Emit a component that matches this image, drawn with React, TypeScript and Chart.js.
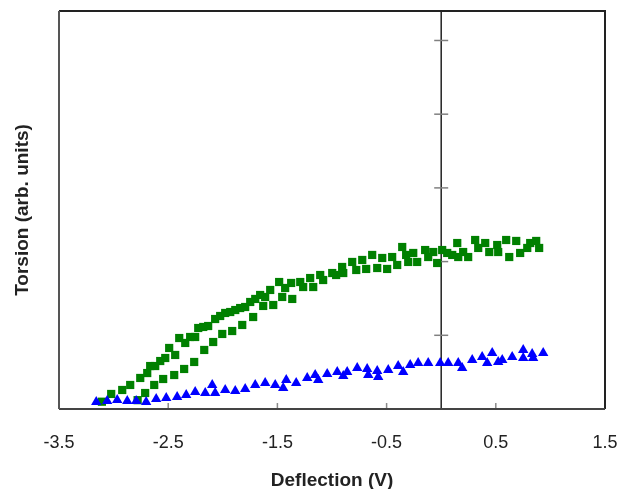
import React, { useEffect, useRef } from "react";
import { Chart, registerables } from "chart.js";

Chart.register(...registerables);

// Tick values
const xTicks = [-3.5, -2.5, -1.5, -0.5, 0.5, 1.5];
const yTicks = [1, 2, 3, 4, 5];

// Green squares (hysteresis loop, upper branch)
const greenUpperX = [-3.107, -3.022, -2.921, -2.848, -2.756, -2.692, -2.665, -2.619, -2.573, -2.527, -2.491, -2.436, -2.399, -2.344, -2.299, -2.253, -2.225, -2.179, -2.134, -2.07, -2.024, -1.978, -1.932, -1.886, -1.841, -1.795, -1.749, -1.703, -1.658, -1.612, -1.566, -1.484, -1.429, -1.374, -1.291, -1.264, -1.2, -1.172, -1.108, -1.081, -0.998, -0.962, -0.907, -0.897, -0.815, -0.778, -0.723, -0.687, -0.632, -0.586, -0.54, -0.495, -0.449, -0.403, -0.357, -0.321, -0.302, -0.256, -0.22, -0.147, -0.119, -0.073, -0.037, 0.009, 0.055, 0.101, 0.147, 0.156, 0.201, 0.247, 0.311, 0.339, 0.403, 0.44, 0.513, 0.522, 0.595, 0.623, 0.687, 0.723, 0.788, 0.815, 0.87, 0.897];
const greenUpperY = [0.099, 0.204, 0.258, 0.326, 0.421, 0.488, 0.583, 0.583, 0.651, 0.692, 0.828, 0.733, 0.963, 0.896, 0.977, 0.977, 1.099, 1.113, 1.126, 1.221, 1.262, 1.303, 1.316, 1.343, 1.37, 1.384, 1.452, 1.493, 1.547, 1.52, 1.615, 1.723, 1.642, 1.71, 1.723, 1.655, 1.777, 1.655, 1.818, 1.75, 1.845, 1.818, 1.927, 1.845, 1.995, 1.886, 2.022, 1.9, 2.09, 1.913, 2.049, 1.9, 2.062, 1.954, 2.198, 2.09, 1.995, 2.117, 1.995, 2.157, 2.062, 2.13, 1.981, 2.157, 2.117, 2.09, 2.252, 2.062, 2.13, 2.062, 2.293, 2.185, 2.252, 2.13, 2.225, 2.13, 2.293, 2.062, 2.28, 2.117, 2.185, 2.252, 2.28, 2.185];

// Green squares (lower branch)
const greenLowerX = [-2.78, -2.711, -2.628, -2.546, -2.445, -2.354, -2.262, -2.17, -2.088, -2.005, -1.914, -1.822, -1.722, -1.63, -1.538, -1.456, -1.364];
const greenLowerY = [0.12, 0.217, 0.326, 0.407, 0.461, 0.543, 0.638, 0.801, 0.909, 1.018, 1.058, 1.14, 1.248, 1.398, 1.411, 1.52, 1.493];

// Blue triangles
const blueX = [-3.159, -3.059, -2.967, -2.875, -2.793, -2.702, -2.61, -2.518, -2.418, -2.335, -2.253, -2.161, -2.097, -2.07, -1.978, -1.886, -1.795, -1.703, -1.612, -1.52, -1.447, -1.419, -1.328, -1.227, -1.154, -1.126, -1.044, -0.952, -0.897, -0.861, -0.769, -0.678, -0.668, -0.586, -0.577, -0.485, -0.394, -0.348, -0.284, -0.211, -0.119, -0.009, 0.064, 0.156, 0.192, 0.284, 0.375, 0.421, 0.467, 0.522, 0.559, 0.65, 0.751, 0.751, 0.833, 0.842, 0.934];
const blueY = [0.095, 0.109, 0.122, 0.109, 0.109, 0.095, 0.136, 0.149, 0.163, 0.19, 0.231, 0.217, 0.326, 0.217, 0.258, 0.244, 0.271, 0.326, 0.353, 0.326, 0.285, 0.393, 0.353, 0.421, 0.461, 0.393, 0.475, 0.502, 0.448, 0.502, 0.556, 0.543, 0.461, 0.516, 0.434, 0.529, 0.583, 0.502, 0.597, 0.624, 0.624, 0.624, 0.624, 0.624, 0.556, 0.665, 0.706, 0.624, 0.76, 0.638, 0.665, 0.706, 0.801, 0.692, 0.746, 0.692, 0.76];

const toPoints = (xs: number[], ys: number[]) => xs.map((x, i) => ({ x, y: ys[i] }));

const framePlugin = {
  id: "frame",
  beforeDatasetsDraw(chart: any) {
    const { ctx, chartArea } = chart;
    const { left, right, top, bottom } = chartArea;
    const xs = chart.scales.x;
    const ys = chart.scales.y;
    ctx.save();
    // x tick marks (inward)
    ctx.strokeStyle = "#8a8a8a";
    ctx.lineWidth = 1.5;
    xTicks.forEach((t) => {
      const px = xs.getPixelForValue(t);
      if (px > left + 2 && px < right - 2) {
        ctx.beginPath();
        ctx.moveTo(px, bottom);
        ctx.lineTo(px, bottom - 6);
        ctx.stroke();
      }
    });
    // vertical axis at x = 0
    const x0 = xs.getPixelForValue(0);
    ctx.strokeStyle = "#222";
    ctx.lineWidth = 1.5;
    ctx.beginPath();
    ctx.moveTo(x0, top);
    ctx.lineTo(x0, bottom);
    ctx.stroke();
    // y tick marks crossing the axis
    ctx.strokeStyle = "#808080";
    ctx.lineWidth = 1.5;
    yTicks.forEach((t) => {
      const py = ys.getPixelForValue(t);
      ctx.beginPath();
      ctx.moveTo(x0 - 7, py);
      ctx.lineTo(x0 + 7, py);
      ctx.stroke();
    });
    // frame
    ctx.lineWidth = 2;
    ctx.strokeStyle = "#222";
    ctx.beginPath();
    ctx.moveTo(left, top);
    ctx.lineTo(right, top);
    ctx.lineTo(right, bottom);
    ctx.stroke();
    ctx.strokeStyle = "#444";
    ctx.beginPath();
    ctx.moveTo(right, bottom);
    ctx.lineTo(left, bottom);
    ctx.stroke();
    ctx.strokeStyle = "#555";
    ctx.beginPath();
    ctx.moveTo(left, bottom);
    ctx.lineTo(left, top);
    ctx.stroke();
    ctx.restore();
  },
};

export default function App() {
  const ref = useRef<HTMLCanvasElement | null>(null);
  useEffect(() => {
    if (!ref.current) return;
    const chart = new Chart(ref.current, {
      type: "scatter",
      data: {
        datasets: [
          {
            label: "Triangles",
            data: toPoints(blueX, blueY),
            pointStyle: "triangle",
            pointRadius: 6,
            backgroundColor: "#0000ff",
            borderColor: "#0000ff",
            borderWidth: 0,
          },
          {
            label: "Squares",
            data: [...toPoints(greenUpperX, greenUpperY), ...toPoints(greenLowerX, greenLowerY)],
            pointStyle: "rect",
            pointRadius: 5.8,
            backgroundColor: "#008000",
            borderColor: "#008000",
            borderWidth: 0,
          },
        ],
      },
      options: {
        responsive: false,
        animation: false,
        events: [],
        layout: { padding: { left: 0, right: 0, top: 11, bottom: 0 } },
        plugins: { legend: { display: false }, tooltip: { enabled: false } },
        scales: {
          x: {
            type: "linear",
            min: -3.5,
            max: 1.5,
            afterBuildTicks: (scale: any) => {
              scale.ticks = xTicks.map((v) => ({ value: v }));
            },
            afterFit: (scale: any) => {
              scale.height = 80;
              scale.paddingLeft = 0;
              scale.paddingRight = 16;
            },
            grid: { display: false },
            border: { display: false },
            ticks: {
              padding: 15,
              color: "#222",
              font: { family: "Liberation Sans, Arial, sans-serif", size: 18 },
              callback: (v: any) => String(v),
            },
            title: {
              display: true,
              text: "Deflection (V)",
              color: "#222",
              padding: { top: 0, bottom: -3.5 },
              font: { family: "Liberation Sans, Arial, sans-serif", size: 19, weight: "bold" },
            },
          },
          y: {
            type: "linear",
            min: 0,
            max: 5.4,
            afterBuildTicks: (scale: any) => {
              scale.ticks = yTicks.map((v) => ({ value: v }));
            },
            afterFit: (scale: any) => {
              scale.width = 59;
            },
            grid: { display: false },
            border: { display: false },
            ticks: { display: false },
            title: {
              display: true,
              text: "Torsion (arb. units)",
              color: "#222",
              padding: { top: 11, bottom: 0 },
              font: { family: "Liberation Sans, Arial, sans-serif", size: 19, weight: "bold" },
            },
          },
        },
      },
      plugins: [framePlugin],
    });
    return () => chart.destroy();
  }, []);
  return (
    <div style={{ position: "absolute", left: 0, top: 0, width: 621, height: 489, background: "#fff" }}>
      <canvas ref={ref} width={621} height={489} style={{ display: "block" }} />
    </div>
  );
}
